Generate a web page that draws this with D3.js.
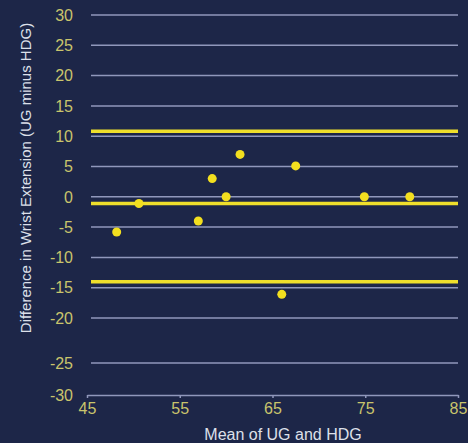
<!DOCTYPE html>
<html>
<head>
<meta charset="utf-8">
<script src="https://cdn.jsdelivr.net/npm/d3@7"></script>
<style>
  html, body { margin: 0; padding: 0; background: #1d2648; }
  svg { display: block; }
</style>
</head>
<body>
<div id="chart"></div>
<script>
// data
var meanVals = [48.2, 50.6, 57.0, 58.5, 60.0, 61.5, 66.0, 67.5, 74.9, 79.8];
var diffVals = [-5.8, -1.1, -4.0, 3.0, 0.0, 7.0, -16.1, 5.1, 0.0, 0.0];
var limitVals = [10.8, -1.1, -14.0]; // upper limit, mean difference, lower limit
var yTicks = [30, 25, 20, 15, 10, 5, 0, -5, -10, -15, -20, -25, -30];
var xTicks = [45, 55, 65, 75, 85];

var width = 468, height = 443;
var gridLeft = 91;

var svg = d3.select("#chart").append("svg")
	.attr("width", width).attr("height", height);

svg.append("rect").attr("width", width).attr("height", height).attr("fill", "#1d2648");

var x = d3.scaleLinear().domain([45, 85]).range([87, 458]);
// the printed axis is squeezed unevenly below -20, so keep it piecewise
var y = d3.scaleLinear().domain([-30, -25, -20, 30]).range([395, 363, 318, 15]);

var font = "'Liberation Sans', Arial, Helvetica, sans-serif";

// horizontal grid lines
svg.append("g").selectAll("line").data(yTicks.filter(function(d) { return d != -30; }))
	.enter().append("line")
	.attr("x1", gridLeft).attr("x2", x(85))
	.attr("y1", function(d) { return y(d); })
	.attr("y2", function(d) { return y(d); })
	.attr("stroke", "#9097bb").attr("stroke-width", 1.5);

// y tick labels
svg.append("g").selectAll("text").data(yTicks)
	.enter().append("text")
	.text(function(d) { return d; })
	.attr("x", 73).attr("y", function(d) { return y(d); })
	.attr("dy", "0.36em").attr("text-anchor", "end")
	.attr("font-family", font).attr("font-size", "16px")
	.attr("fill", "#c9c46c");

// x axis
var xAxis = svg.append("g").attr("transform", "translate(0," + y(-30) + ")")
	.call(d3.axisBottom(x).tickValues(xTicks).tickSizeInner(3).tickSizeOuter(0).tickPadding(5));
xAxis.select(".domain").attr("stroke", "#9097bb").attr("stroke-width", 1.5);
xAxis.selectAll(".tick line").attr("stroke", "#9097bb").attr("stroke-width", 1.5);
xAxis.selectAll(".tick text").attr("font-family", font).attr("font-size", "16px")
	.attr("fill", "#c9c46c");

// limits of agreement and mean difference
svg.append("g").selectAll("line").data(limitVals)
	.enter().append("line")
	.attr("x1", gridLeft).attr("x2", x(85))
	.attr("y1", function(d) { return y(d); })
	.attr("y2", function(d) { return y(d); })
	.attr("stroke", "#efdf2c").attr("stroke-width", 3.5);

// points
svg.append("g").selectAll("circle").data(meanVals)
	.enter().append("circle")
	.attr("cx", function(d) { return x(d); })
	.attr("cy", function(d, i) { return y(diffVals[i]); })
	.attr("r", 4.5)
	.attr("fill", "#f3df1f");

// axis titles
svg.append("text").text("Mean of UG and HDG")
	.attr("x", 283).attr("y", 440)
	.attr("text-anchor", "middle")
	.attr("font-family", font).attr("font-size", "16px")
	.attr("fill", "#dde0ea");

svg.append("text").text("Difference in Wrist Extension (UG minus HDG)")
	.attr("transform", "translate(31,178) rotate(-90)")
	.attr("text-anchor", "middle")
	.attr("font-family", font).attr("font-size", "15px")
	.attr("fill", "#dde0ea");
</script>
</body>
</html>
